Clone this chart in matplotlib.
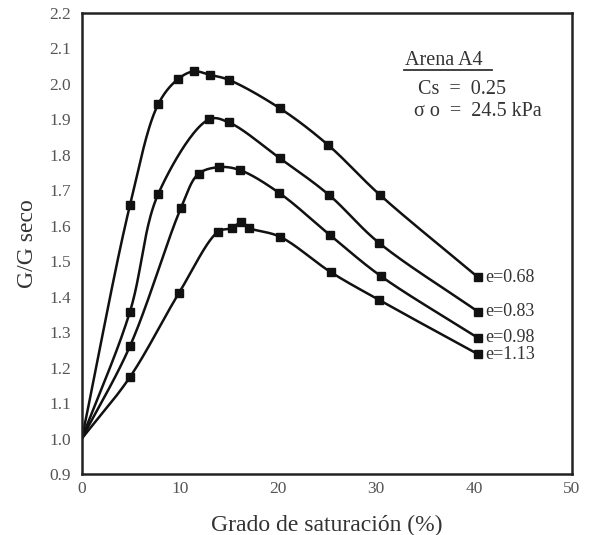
import numpy as np
import matplotlib
matplotlib.use("Agg")
import matplotlib.pyplot as plt

# G/G_seco vs degree of saturation, one curve per void ratio
void_labels = ["e=0.68", "e=0.83", "e=0.98", "e=1.13"]

sat_068 = [4.9, 7.8, 9.8, 11.4, 13.1, 15.0, 20.2, 25.1, 30.4, 40.4]
g_068 = [1.657, 1.943, 2.013, 2.035, 2.025, 2.011, 1.931, 1.828, 1.687, 1.455]

sat_083 = [4.9, 7.8, 13.0, 15.0, 20.2, 25.2, 30.3, 40.4]
g_083 = [1.357, 1.690, 1.900, 1.891, 1.790, 1.687, 1.552, 1.358]

sat_098 = [4.9, 10.1, 11.9, 14.0, 16.1, 20.1, 25.3, 30.5, 40.4]
g_098 = [1.260, 1.649, 1.746, 1.765, 1.757, 1.693, 1.574, 1.458, 1.284]

sat_113 = [4.9, 9.9, 13.9, 15.3, 16.2, 17.1, 20.2, 25.4, 30.3, 40.4]
g_113 = [1.173, 1.410, 1.583, 1.593, 1.609, 1.593, 1.569, 1.469, 1.391, 1.238]

# every curve starts from the dry state
origin = (0.0, 1.0)

x_ticks = [0, 10, 20, 30, 40, 50]
y_ticks = [0.9, 1.0, 1.1, 1.2, 1.3, 1.4, 1.5, 1.6, 1.7, 1.8, 1.9, 2.0, 2.1, 2.2]


def catmull_rom(x, y, n=40, alpha=0.5):
    """Centripetal Catmull-Rom curve through the points (scaled space)."""
    # work in a roughly isotropic space so the parametrisation is sane
    p = np.column_stack([np.asarray(x, float) / 50.0, np.asarray(y, float) / 1.3])
    p = np.vstack([2 * p[0] - p[1], p, 2 * p[-1] - p[-2]])
    out = []
    for i in range(1, len(p) - 2):
        p0, p1, p2, p3 = p[i - 1], p[i], p[i + 1], p[i + 2]
        t0 = 0.0
        t1 = t0 + np.linalg.norm(p1 - p0) ** alpha
        t2 = t1 + np.linalg.norm(p2 - p1) ** alpha
        t3 = t2 + np.linalg.norm(p3 - p2) ** alpha
        t = np.linspace(t1, t2, n)[:, None]
        a1 = (t1 - t) / (t1 - t0) * p0 + (t - t0) / (t1 - t0) * p1
        a2 = (t2 - t) / (t2 - t1) * p1 + (t - t1) / (t2 - t1) * p2
        a3 = (t3 - t) / (t3 - t2) * p2 + (t - t2) / (t3 - t2) * p3
        b1 = (t2 - t) / (t2 - t0) * a1 + (t - t0) / (t2 - t0) * a2
        b2 = (t3 - t) / (t3 - t1) * a2 + (t - t1) / (t3 - t1) * a3
        c = (t2 - t) / (t2 - t1) * b1 + (t - t1) / (t2 - t1) * b2
        out.append(c)
    c = np.vstack(out)
    return c[:, 0] * 50.0, c[:, 1] * 1.3


plt.rcParams["font.family"] = ["Liberation Serif", "DejaVu Serif"]
fig = plt.figure(figsize=(5.89, 5.35), dpi=100)
ax = fig.add_axes([0.139, 0.114, 0.832, 0.862])

series = [(sat_068, g_068), (sat_083, g_083), (sat_098, g_098), (sat_113, g_113)]
for (sx, gy), lab in zip(series, void_labels):
    cx, cy = catmull_rom([origin[0]] + sx, [origin[1]] + gy)
    ax.plot(cx, cy, color="#111111", lw=1.8)
    ax.plot(sx, gy, ls="none", marker="s", ms=6, color="#111111")
    ax.text(sx[-1] + 0.8, gy[-1], lab, fontsize=13, color="#333333",
            va="center", ha="left")

ax.set_xlim(0, 50)
ax.set_ylim(0.9, 2.2)
ax.set_xticks(x_ticks)
ax.set_yticks(y_ticks)
ax.set_yticklabels([f"{v:.1f}" for v in y_ticks])
ax.tick_params(length=0, labelsize=12.5, labelcolor="#555555")
ax.tick_params(axis="y", pad=8)
ax.tick_params(axis="x", pad=5)
for sp in ax.spines.values():
    sp.set_linewidth(1.8)
    sp.set_color("#222222")

ax.set_xlabel("Grado de saturación (%)", fontsize=17, color="#333333", labelpad=13)
ax.set_ylabel("G/G seco", fontsize=17, color="#333333", labelpad=8)

# sample description box (no frame, underlined heading)
ax.text(33.0, 2.065, "Arena A4", fontsize=14.5, color="#333333", va="center")
ax.plot([32.9, 41.8], [2.040, 2.040], color="#333333", lw=1.3)
ax.text(34.3, 1.983, "Cs  =  0.25", fontsize=14.5, color="#333333", va="center")
ax.text(33.9, 1.922, "σ o  =  24.5 kPa", fontsize=14.5, color="#333333", va="center")

fig.savefig("out.png", dpi=100)
